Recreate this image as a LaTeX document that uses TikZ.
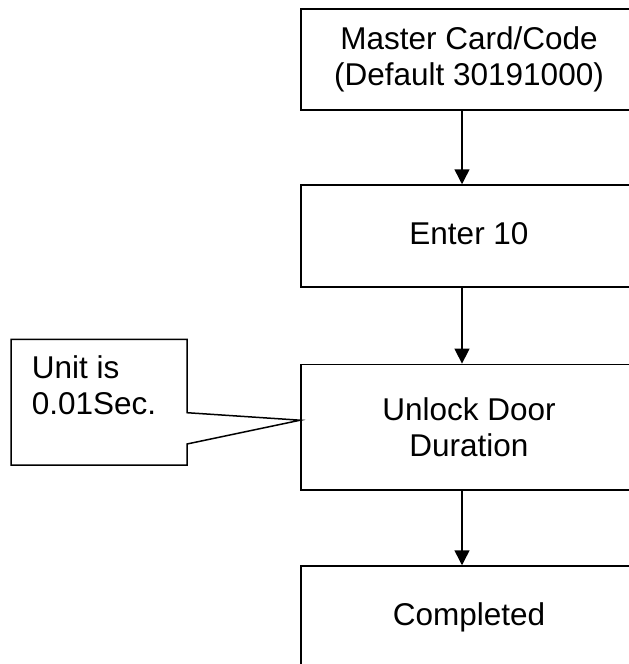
\documentclass[tikz,border=0pt]{standalone}
\usepackage{fontspec}
\setmainfont{Liberation Sans}
\usetikzlibrary{arrows.meta}

\tikzset{
  textfont/.style={font=\fontsize{31.5}{36.5}\selectfont},
  flowbox/.style={draw, line width=1.5pt, minimum width=336pt, inner sep=0pt,
    align=center, textfont},
  flowarrow/.style={line width=1.5pt, -{Triangle[width=15pt,length=15pt]}},
  outline/.style={line width=1.5pt, line join=miter},
}

\begin{document}
\begin{tikzpicture}[x=1pt,y=-1pt]
  \useasboundingbox (0,0) rectangle (629,664);
  \clip (0,0) rectangle (629,664);

  % process boxes
  \node[flowbox, minimum height=101pt] (b1) at (469,59.5)
    {Master Card/Code\\(Default 30191000)};
  \node[flowbox, minimum height=102pt] (b2) at (469,236)
    {\raisebox{5pt}{Enter 10}};
  \node[flowbox, minimum height=125.7pt] (b3) at (469,427.2)
    {Unlock Door\\Duration};
  \node[flowbox, minimum height=102pt] (b4) at (469,617)
    {\raisebox{2pt}{Completed}};

  % connectors
  \draw[flowarrow] ([xshift=-7pt]b1.south) -- ([xshift=-7pt]b2.north);
  \draw[flowarrow] ([xshift=-7pt]b2.south) -- ([xshift=-7pt]b3.north);
  \draw[flowarrow] ([xshift=-7pt]b3.south) -- ([xshift=-7pt]b4.north);

  % callout note
  \coordinate (tip) at ([yshift=7pt]b3.west);
  \draw[outline] (11,339.3) -- (187,339.3) -- (187,412.7) -- (tip)
    -- (187,444) -- (187,465) -- (11,465) -- cycle;
  \node[anchor=north west, align=left, inner sep=0pt, textfont]
    (note) at (31.7,355) {Unit is\\0.01Sec.};
\end{tikzpicture}
\end{document}
